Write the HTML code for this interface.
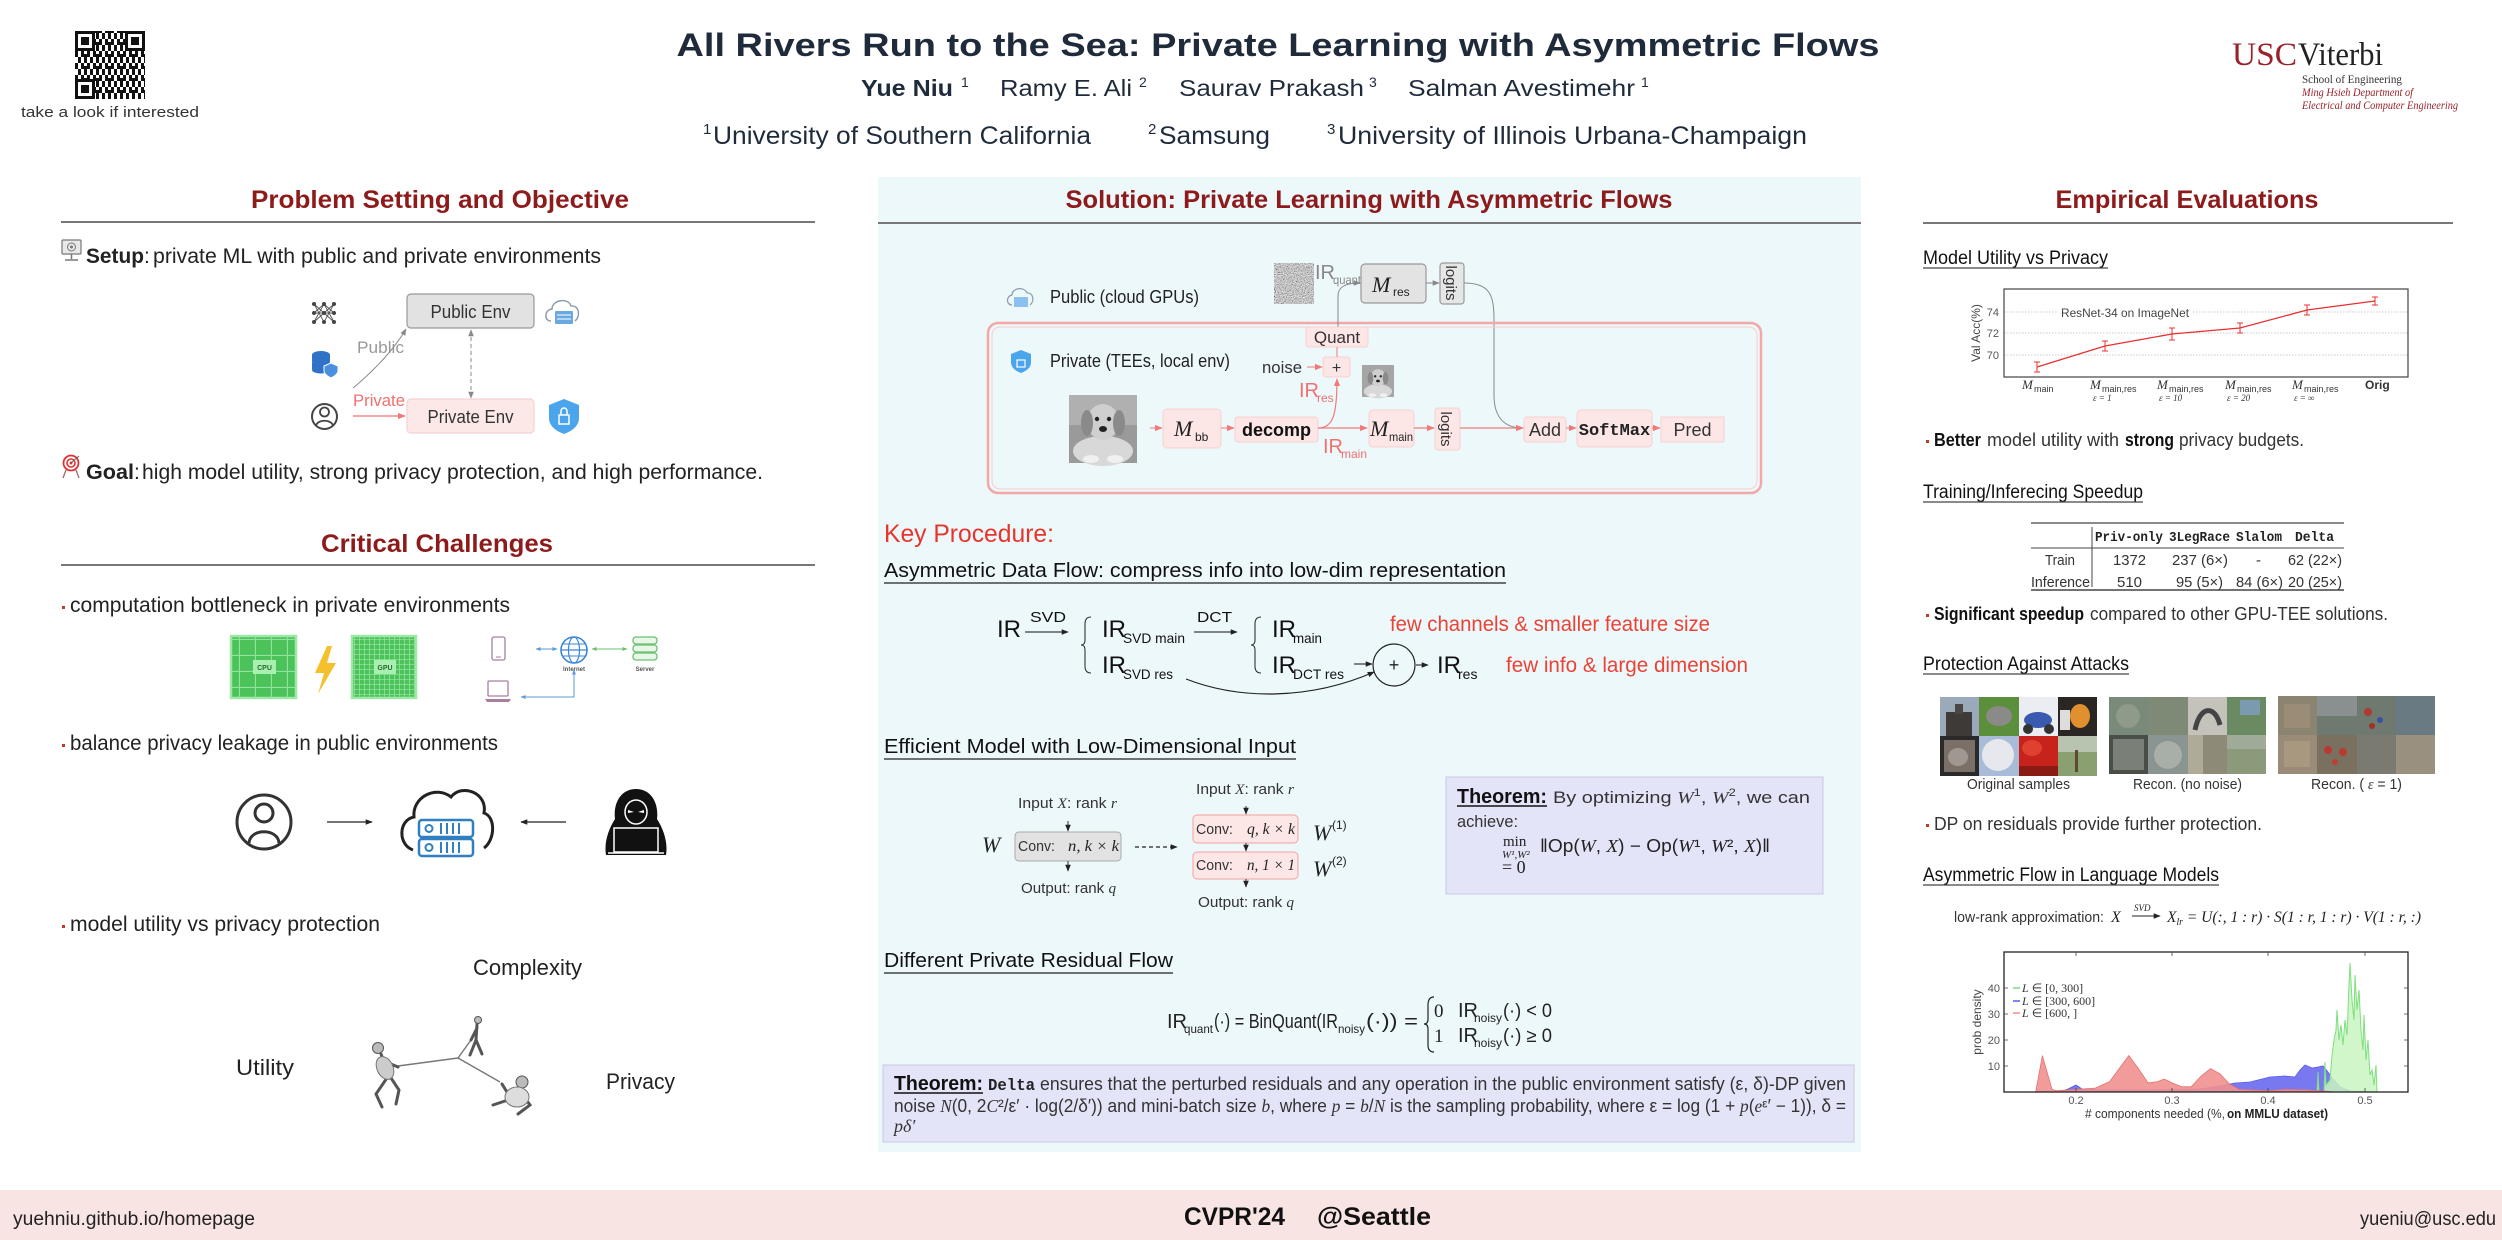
<!DOCTYPE html>
<html><head><meta charset="utf-8">
<style>
html,body{margin:0;padding:0;background:#fff;}
svg{display:block;}
text{font-family:"Liberation Sans",sans-serif;}
.sf{font-family:"Liberation Serif",serif;}
.mo{font-family:"Liberation Mono",monospace;}
.hd{font-weight:bold;fill:#8e1b1b;font-size:25px;}
.it{font-style:italic;}
</style></head><body>
<svg width="2502" height="1240" viewBox="0 0 2502 1240" xmlns="http://www.w3.org/2000/svg" fill="#222">
<defs>
<marker id="mk" viewBox="0 0 10 10" refX="9" refY="5" markerWidth="7" markerHeight="7" orient="auto-start-reverse" markerUnits="userSpaceOnUse"><path d="M0,1 L10,5 L0,9 z" fill="#222"/></marker>
<marker id="mg" viewBox="0 0 10 10" refX="9" refY="5" markerWidth="7" markerHeight="7" orient="auto-start-reverse" markerUnits="userSpaceOnUse"><path d="M0,1 L10,5 L0,9 z" fill="#888"/></marker>
<marker id="mr" viewBox="0 0 10 10" refX="9" refY="5" markerWidth="8" markerHeight="8" orient="auto-start-reverse" markerUnits="userSpaceOnUse"><path d="M0,1 L10,5 L0,9 z" fill="#f07a7a"/></marker>
<marker id="mb" viewBox="0 0 10 10" refX="9" refY="5" markerWidth="5" markerHeight="5" orient="auto-start-reverse" markerUnits="userSpaceOnUse"><path d="M0,1 L10,5 L0,9 z" fill="#5a9bd5"/></marker>
<marker id="mgr" viewBox="0 0 10 10" refX="9" refY="5" markerWidth="5" markerHeight="5" orient="auto-start-reverse" markerUnits="userSpaceOnUse"><path d="M0,1 L10,5 L0,9 z" fill="#6cc070"/></marker>
<pattern id="qr" width="12" height="12" patternUnits="userSpaceOnUse"><rect width="12" height="12" fill="#fff"/><rect x="0" y="0" width="3" height="3" fill="#111"/><rect x="6" y="0" width="3" height="3" fill="#111"/><rect x="3" y="3" width="3" height="3" fill="#111"/><rect x="9" y="3" width="3" height="6" fill="#111"/><rect x="0" y="6" width="6" height="3" fill="#111"/><rect x="6" y="9" width="3" height="3" fill="#111"/><rect x="0" y="9" width="3" height="3" fill="#111"/></pattern>
<pattern id="g1" width="16" height="16" patternUnits="userSpaceOnUse"><path d="M15.5,0 V16 M0,15.5 H16" stroke="#8fe49a" stroke-width="1.2"/></pattern>
<pattern id="g2" width="5" height="5" patternUnits="userSpaceOnUse"><path d="M4.5,0 V5 M0,4.5 H5" stroke="#8fe49a" stroke-width="0.8"/></pattern>
<filter id="nz" x="0" y="0" width="100%" height="100%"><feTurbulence type="fractalNoise" baseFrequency="0.9" numOctaves="2" seed="4"/><feColorMatrix type="matrix" values="0.33 0.33 0.33 0 0 0.33 0.33 0.33 0 0 0.33 0.33 0.33 0 0 0 0 0 0 1"/><feComponentTransfer><feFuncR type="linear" slope="2.2" intercept="-0.55"/><feFuncG type="linear" slope="2.2" intercept="-0.55"/><feFuncB type="linear" slope="2.2" intercept="-0.55"/></feComponentTransfer></filter>
</defs>

<!-- ===== HEADER ===== -->
<rect x="75" y="31" width="70" height="68" fill="url(#qr)"/>
<g fill="#111"><rect x="75" y="31" width="20" height="20"/><rect x="125" y="31" width="20" height="20"/><rect x="75" y="79" width="20" height="20"/></g>
<g fill="#fff"><rect x="78" y="34" width="14" height="14"/><rect x="128" y="34" width="14" height="14"/><rect x="78" y="82" width="14" height="14"/></g>
<g fill="#111"><rect x="81" y="37" width="8" height="8"/><rect x="131" y="37" width="8" height="8"/><rect x="81" y="85" width="8" height="8"/></g>
<text x="21" y="117" font-size="15" fill="#333" textLength="178" lengthAdjust="spacingAndGlyphs">take a look if interested</text>

<text x="1278" y="56" text-anchor="middle" font-size="32" font-weight="bold" fill="#1f2b3b" textLength="1203" lengthAdjust="spacingAndGlyphs">All Rivers Run to the Sea: Private Learning with Asymmetric Flows</text>

<text x="861" y="96" font-size="23" font-weight="bold" fill="#1f2b3b" textLength="92" lengthAdjust="spacingAndGlyphs">Yue Niu</text><text x="961" y="87" font-size="14" fill="#1f2b3b">1</text>
<text x="1000" y="96" font-size="23" fill="#1f2b3b" textLength="132" lengthAdjust="spacingAndGlyphs">Ramy E. Ali</text><text x="1139" y="87" font-size="14" fill="#1f2b3b">2</text>
<text x="1179" y="96" font-size="23" fill="#1f2b3b" textLength="185" lengthAdjust="spacingAndGlyphs">Saurav Prakash</text><text x="1369" y="87" font-size="14" fill="#1f2b3b">3</text>
<text x="1408" y="96" font-size="23" fill="#1f2b3b" textLength="227" lengthAdjust="spacingAndGlyphs">Salman Avestimehr</text><text x="1641" y="87" font-size="14" fill="#1f2b3b">1</text>

<text x="703" y="134" font-size="15" fill="#1f2b3b">1</text><text x="713" y="144" font-size="25" fill="#1f2b3b" textLength="378" lengthAdjust="spacingAndGlyphs">University of Southern California</text>
<text x="1148" y="134" font-size="15" fill="#1f2b3b">2</text><text x="1159" y="144" font-size="25" fill="#1f2b3b" textLength="111" lengthAdjust="spacingAndGlyphs">Samsung</text>
<text x="1327" y="134" font-size="15" fill="#1f2b3b">3</text><text x="1338" y="144" font-size="25" fill="#1f2b3b" textLength="469" lengthAdjust="spacingAndGlyphs">University of Illinois Urbana-Champaign</text>

<text x="2232" y="65" class="sf" font-size="33" fill="#99212b" textLength="65" lengthAdjust="spacingAndGlyphs">USC</text>
<text x="2298" y="65" class="sf" font-size="33" fill="#222" textLength="85" lengthAdjust="spacingAndGlyphs">Viterbi</text>
<text x="2302" y="83" class="sf" font-size="12" fill="#333" textLength="100" lengthAdjust="spacingAndGlyphs">School of Engineering</text>
<text x="2302" y="96" class="sf it" font-size="12" fill="#99212b" textLength="111" lengthAdjust="spacingAndGlyphs">Ming Hsieh Department of</text>
<text x="2302" y="109" class="sf it" font-size="12" fill="#99212b" textLength="156" lengthAdjust="spacingAndGlyphs">Electrical and Computer Engineering</text>

<!-- ===== LEFT COLUMN ===== -->
<text x="440" y="208" text-anchor="middle" class="hd" textLength="378" lengthAdjust="spacingAndGlyphs">Problem Setting and Objective</text>
<line x1="61" y1="222" x2="815" y2="222" stroke="#777" stroke-width="2"/>

<g><rect x="62" y="240" width="19" height="14" rx="1" fill="#e8e8e8" stroke="#777" stroke-width="1.2"/><circle cx="71.5" cy="247" r="4" fill="none" stroke="#777" stroke-width="1"/><circle cx="71.5" cy="247" r="1.5" fill="#777"/><line x1="71.5" y1="254" x2="71.5" y2="259" stroke="#777" stroke-width="1.5"/><line x1="65" y1="260" x2="78" y2="260" stroke="#777" stroke-width="1.5"/></g>
<text x="86" y="263" font-size="21" font-weight="bold" textLength="58" lengthAdjust="spacingAndGlyphs">Setup</text><text x="144" y="263" font-size="21">:</text>
<text x="153" y="263" font-size="21" textLength="448" lengthAdjust="spacingAndGlyphs">private ML with public and private environments</text>

<g stroke="#555" stroke-width="0.9" fill="none"><path d="M314,304 L324,313 L334,304 M314,313 L324,304 L334,313 M314,322 L324,313 L334,322 M314,304 L324,322 L334,304 M314,322 L324,304 L334,322 M314,313 H334"/></g>
<g fill="#444"><circle cx="314" cy="304" r="2"/><circle cx="314" cy="313" r="2"/><circle cx="314" cy="322" r="2"/><circle cx="324" cy="304" r="2"/><circle cx="324" cy="313" r="2"/><circle cx="324" cy="322" r="2"/><circle cx="334" cy="304" r="2"/><circle cx="334" cy="313" r="2"/><circle cx="334" cy="322" r="2"/></g>
<rect x="407" y="294" width="127" height="34" rx="4" fill="#e2e2e2" stroke="#999" stroke-width="1.2"/>
<text x="470.5" y="318" text-anchor="middle" font-size="18" fill="#333" textLength="80" lengthAdjust="spacingAndGlyphs">Public Env</text>
<path d="M551,321 C544,321 544,310 552,309 C552,300 568,297 571,306 C579,305 581,316 575,321" fill="none" stroke="#8a9aa8" stroke-width="1.4"/>
<rect x="555" y="311" width="18" height="13" rx="1" fill="#6aa8e0"/><line x1="557" y1="315" x2="571" y2="315" stroke="#fff" stroke-width="1"/><line x1="557" y1="319" x2="571" y2="319" stroke="#fff" stroke-width="1"/>
<g fill="#2f72c8"><ellipse cx="321" cy="355" rx="9" ry="4"/><rect x="312" y="355" width="18" height="6"/><ellipse cx="321" cy="362" rx="9" ry="3.5"/><rect x="312" y="363" width="18" height="6"/><ellipse cx="321" cy="370" rx="9" ry="3.5"/></g>
<path d="M331,363 L338,366 L338,371 C338,374 335,376 331,378 C327,376 324,374 324,371 L324,366 Z" fill="#4a8fe0" stroke="#fff" stroke-width="1"/>
<text x="357" y="353" font-size="17" fill="#999" textLength="47" lengthAdjust="spacingAndGlyphs">Public</text>
<path d="M353,388 C375,370 395,348 406,329" fill="none" stroke="#888" stroke-width="1" marker-end="url(#mg)"/>
<line x1="471" y1="330" x2="471" y2="398" stroke="#888" stroke-width="1" stroke-dasharray="4,3" marker-start="url(#mg)" marker-end="url(#mg)"/>
<text x="353" y="406" font-size="17" fill="#f07070" textLength="52" lengthAdjust="spacingAndGlyphs">Private</text>
<circle cx="324.5" cy="416.5" r="12.5" fill="none" stroke="#444" stroke-width="2"/><circle cx="324.5" cy="412" r="4.5" fill="none" stroke="#444" stroke-width="1.8"/><path d="M316,426 C317,419 332,419 333,426" fill="none" stroke="#444" stroke-width="1.8"/>
<line x1="353" y1="416" x2="405" y2="416" stroke="#f07070" stroke-width="1.3" marker-end="url(#mr)"/>
<rect x="407" y="399" width="127" height="34" rx="4" fill="#fde8e8" stroke="#f7d0d0" stroke-width="1.2"/>
<text x="470.5" y="423" text-anchor="middle" font-size="18" fill="#333" textLength="86" lengthAdjust="spacingAndGlyphs">Private Env</text>
<path d="M564,399 L579,405 L579,418 C579,426 572,431 564,434 C556,431 549,426 549,418 L549,405 Z" fill="#4aa5ec"/>
<rect x="559" y="415" width="10" height="9" fill="none" stroke="#fff" stroke-width="1.5"/><path d="M561,415 V411 A3,3 0 0 1 567,411 V415" fill="none" stroke="#fff" stroke-width="1.5"/>

<g><circle cx="71" cy="463" r="7.5" fill="#fff" stroke="#d33" stroke-width="1.8"/><circle cx="71" cy="463" r="4" fill="#fff" stroke="#d33" stroke-width="1.6"/><circle cx="71" cy="463" r="1.5" fill="#d33"/><path d="M66,470 L63,478 M76,470 L79,478" stroke="#a66" stroke-width="1.3"/><line x1="71" y1="463" x2="79" y2="456" stroke="#666" stroke-width="1"/></g>
<text x="86" y="479" font-size="21" font-weight="bold" textLength="48" lengthAdjust="spacingAndGlyphs">Goal</text><text x="134" y="479" font-size="21">:</text>
<text x="142" y="479" font-size="21" textLength="621" lengthAdjust="spacingAndGlyphs">high model utility, strong privacy protection, and high performance.</text>

<text x="437" y="552" text-anchor="middle" class="hd" textLength="232" lengthAdjust="spacingAndGlyphs">Critical Challenges</text>
<line x1="61" y1="565" x2="815" y2="565" stroke="#777" stroke-width="2"/>

<rect x="62" y="606" width="3" height="3" fill="#c0392b"/>
<text x="70" y="612" font-size="21" textLength="440" lengthAdjust="spacingAndGlyphs">computation bottleneck in private environments</text>
<rect x="231" y="636" width="65" height="62" fill="#4cc25b" stroke="#9fe8a8" stroke-width="2.5"/>
<rect x="231" y="636" width="65" height="62" fill="url(#g1)"/>
<rect x="253" y="660" width="23" height="14" fill="#a8f0b0"/><text x="264.5" y="670" text-anchor="middle" font-size="7" font-weight="bold" fill="#2a6a30">CPU</text>
<polygon points="327,646 315,673 324,673 318,694 336,663 327,663 332,646" fill="#f5c02e"/>
<rect x="352" y="636" width="64" height="62" fill="#4cc25b" stroke="#9fe8a8" stroke-width="2.5"/>
<rect x="352" y="636" width="64" height="62" fill="url(#g2)"/>
<rect x="374" y="660" width="22" height="14" fill="#a8f0b0"/><text x="385" y="670" text-anchor="middle" font-size="7" font-weight="bold" fill="#2a6a30">GPU</text>
<rect x="492" y="637" width="13" height="23" rx="2" fill="none" stroke="#a77fa0" stroke-width="1.3"/><line x1="496" y1="657" x2="501" y2="657" stroke="#a77fa0" stroke-width="1"/>
<line x1="536" y1="649" x2="557" y2="649" stroke="#5a9bd5" stroke-width="1" marker-start="url(#mb)" marker-end="url(#mb)"/>
<circle cx="574" cy="650" r="13" fill="none" stroke="#3b86d8" stroke-width="1.6"/><ellipse cx="574" cy="650" rx="5.5" ry="13" fill="none" stroke="#3b86d8" stroke-width="1.2"/><line x1="561" y1="650" x2="587" y2="650" stroke="#3b86d8" stroke-width="1.2"/><line x1="563" y1="644" x2="585" y2="644" stroke="#3b86d8" stroke-width="1"/><line x1="563" y1="656" x2="585" y2="656" stroke="#3b86d8" stroke-width="1"/>
<text x="574" y="671" text-anchor="middle" font-size="6" font-weight="bold" fill="#555">Internet</text>
<line x1="592" y1="649" x2="627" y2="649" stroke="#6cc070" stroke-width="1" marker-start="url(#mgr)" marker-end="url(#mgr)"/>
<g fill="#e8f7e8" stroke="#6cc070" stroke-width="1.3"><rect x="633" y="637" width="24" height="7" rx="3"/><rect x="633" y="645" width="24" height="7" rx="3"/><rect x="633" y="653" width="24" height="7" rx="3"/></g>
<text x="645" y="671" text-anchor="middle" font-size="6" font-weight="bold" fill="#555">Server</text>
<polyline points="574,670 574,697 521,697" fill="none" stroke="#5a9bd5" stroke-width="1" marker-start="url(#mb)" marker-end="url(#mb)"/>
<rect x="488" y="681" width="20" height="15" rx="1" fill="none" stroke="#a77fa0" stroke-width="1.3"/><path d="M485,699 H511 L509,702 H487 Z" fill="#a77fa0"/>

<rect x="62" y="744" width="3" height="3" fill="#c0392b"/>
<text x="70" y="750" font-size="21" textLength="428" lengthAdjust="spacingAndGlyphs">balance privacy leakage in public environments</text>
<circle cx="264" cy="822" r="27" fill="none" stroke="#333" stroke-width="3"/><circle cx="264" cy="813" r="9" fill="none" stroke="#333" stroke-width="3"/><path d="M249,843 C250,828 278,828 279,843" fill="none" stroke="#333" stroke-width="3"/>
<line x1="327" y1="822" x2="372" y2="822" stroke="#222" stroke-width="1.2" marker-end="url(#mk)"/>
<path d="M413,850 C398,845 398,820 414,817 C412,797 436,785 451,797 C462,783 488,793 484,813 C496,817 495,840 484,848" fill="none" stroke="#222" stroke-width="3"/>
<g stroke="#2f7fc1" stroke-width="2.5" fill="#fff"><rect x="419" y="820" width="54" height="17" rx="3"/><rect x="419" y="839" width="54" height="17" rx="3"/></g>
<g stroke="#2f7fc1" stroke-width="2" fill="none"><circle cx="429" cy="828.5" r="3.5"/><circle cx="429" cy="847.5" r="3.5"/><path d="M441,823 V834 M447,823 V834 M453,823 V834 M459,823 V834 M441,842 V853 M447,842 V853 M453,842 V853 M459,842 V853"/></g>
<line x1="566" y1="822" x2="521" y2="822" stroke="#222" stroke-width="1.2" marker-end="url(#mk)"/>
<path d="M636,789 C621,789 613,803 615,819 C608,830 604,843 606,855 L666,855 C668,843 664,830 657,819 C659,803 651,789 636,789 Z" fill="#111"/>
<ellipse cx="636" cy="812" rx="11" ry="12" fill="#111" stroke="#fff" stroke-width="1.5"/>
<path d="M628,810 L634,812 L628,813 Z M644,810 L638,812 L644,813 Z" fill="#fff"/>
<rect x="614" y="828" width="44" height="24" fill="#111" stroke="#fff" stroke-width="1.5"/><line x1="608" y1="853" x2="664" y2="853" stroke="#fff" stroke-width="1.5"/>

<rect x="62" y="925" width="3" height="3" fill="#c0392b"/>
<text x="70" y="931" font-size="21" textLength="310" lengthAdjust="spacingAndGlyphs">model utility vs privacy protection</text>
<text x="473" y="975" font-size="22" textLength="109" lengthAdjust="spacingAndGlyphs">Complexity</text>
<text x="236" y="1075" font-size="22" textLength="58" lengthAdjust="spacingAndGlyphs">Utility</text>
<text x="606" y="1089" font-size="22" textLength="69" lengthAdjust="spacingAndGlyphs">Privacy</text>
<g stroke="#777" stroke-width="1.4" fill="none">
<line x1="398" y1="1066" x2="458" y2="1058"/><line x1="458" y1="1058" x2="471" y2="1040"/><line x1="458" y1="1058" x2="500" y2="1082"/>
</g>
<g stroke="#555" stroke-width="3" fill="none" stroke-linecap="round">
<path d="M381,1054 L389,1075 M386,1062 L398,1067 M389,1075 L376,1094 L382,1107 M389,1075 L399,1090 L396,1104"/>
<path d="M477,1024 L476,1040 L470,1055 M476,1040 L482,1054 M477,1028 L471,1040"/>
<path d="M518,1089 L508,1100 L493,1105 M510,1097 L502,1084 M518,1089 L530,1105 L518,1114"/>
</g>
<g fill="#bbb" stroke="#555" stroke-width="1"><circle cx="378" cy="1048" r="5.5"/><circle cx="478" cy="1020" r="3.5"/><circle cx="522" cy="1082" r="6"/></g>
<ellipse cx="385" cy="1068" rx="8" ry="12" fill="#ccc" stroke="#777" stroke-width="1" transform="rotate(-25 385 1068)"/>
<ellipse cx="517" cy="1097" rx="12" ry="10" fill="#ddd" stroke="#777" stroke-width="1"/>

<!-- ===== MIDDLE COLUMN ===== -->
<rect x="878" y="177" width="983" height="975" fill="#edf8fb"/>
<text x="1369" y="208" text-anchor="middle" class="hd" textLength="607" lengthAdjust="spacingAndGlyphs">Solution: Private Learning with Asymmetric Flows</text>
<line x1="878" y1="223" x2="1861" y2="223" stroke="#777" stroke-width="2"/>

<path d="M1012,305 C1006,305 1006,296 1012,295 C1012,288 1024,286 1027,293 C1033,292 1035,301 1030,305" fill="none" stroke="#8a9aa8" stroke-width="1.2"/>
<rect x="1014" y="297" width="14" height="10" fill="#8cc0ee"/>
<text x="1050" y="303" font-size="18" textLength="149" lengthAdjust="spacingAndGlyphs">Public (cloud GPUs)</text>
<rect x="1274" y="263" width="40" height="41" filter="url(#nz)"/>
<text x="1315" y="279" font-size="20" fill="#888">IR</text><text x="1333" y="284" font-size="12" fill="#888" textLength="28" lengthAdjust="spacingAndGlyphs">quant</text>
<rect x="1361" y="264" width="65" height="39" rx="4" fill="#e3e3e3" stroke="#999" stroke-width="1.2"/>
<text x="1372" y="292" class="sf it" font-size="22" fill="#222">M</text><text x="1393" y="296" font-size="12" fill="#222">res</text>
<line x1="1426" y1="283" x2="1439" y2="283" stroke="#888" stroke-width="1" marker-end="url(#mg)"/>
<rect x="1440" y="263" width="24" height="41" rx="3" fill="#e6e6e6" stroke="#999" stroke-width="1.2"/>
<text transform="translate(1446,283) rotate(90)" text-anchor="middle" font-size="15" fill="#333">logits</text>
<path d="M1464,283 C1490,283 1494,295 1494,320 L1494,395 C1494,418 1505,428 1523,428" fill="none" stroke="#888" stroke-width="1" marker-end="url(#mg)"/>

<rect x="988" y="323" width="773" height="170" rx="10" fill="none" stroke="#f4a7a7" stroke-width="2.5"/>
<rect x="992" y="327" width="765" height="162" rx="8" fill="none" stroke="#f9cccc" stroke-width="1"/>
<path d="M1338,327 L1338,296 C1338,287 1345,283 1360,283" fill="none" stroke="#888" stroke-width="1" marker-end="url(#mg)"/>
<rect x="1306" y="327" width="62" height="20" rx="3" fill="#fde6e6" stroke="#f9cfcf" stroke-width="1"/>
<text x="1337" y="343" text-anchor="middle" font-size="17" fill="#333">Quant</text>
<path d="M1021,350 L1031,354 L1031,362 C1031,368 1026,371 1021,373 C1016,371 1011,368 1011,362 L1011,354 Z" fill="#4aa5ec"/>
<rect x="1017" y="360" width="8" height="7" fill="none" stroke="#fff" stroke-width="1.2"/>
<text x="1050" y="367" font-size="18" textLength="180" lengthAdjust="spacingAndGlyphs">Private (TEEs, local env)</text>
<text x="1262" y="373" font-size="17" fill="#333" textLength="40" lengthAdjust="spacingAndGlyphs">noise</text>
<line x1="1307" y1="367" x2="1322" y2="367" stroke="#f07a7a" stroke-width="1" marker-end="url(#mr)"/>
<rect x="1323" y="357" width="27" height="20" rx="3" fill="#fde6e6" stroke="#f9cfcf" stroke-width="1"/>
<text x="1336.5" y="373" text-anchor="middle" font-size="16" fill="#333">+</text>
<line x1="1337" y1="357" x2="1337" y2="347" stroke="#f07a7a" stroke-width="1"/>
<g transform="translate(1362,365) scale(0.47)">
<rect width="68" height="68" fill="#a5a5a5"/><ellipse cx="34" cy="56" rx="30" ry="15" fill="#d8d8d8"/><ellipse cx="34" cy="27" rx="16" ry="18" fill="#cfcfcf"/><ellipse cx="18" cy="28" rx="6" ry="13" fill="#8a8a8a"/><ellipse cx="50" cy="28" rx="6" ry="13" fill="#8a8a8a"/><circle cx="28" cy="24" r="2.5" fill="#222"/><circle cx="40" cy="24" r="2.5" fill="#222"/><ellipse cx="34" cy="34" rx="4" ry="3" fill="#222"/><ellipse cx="22" cy="64" rx="8" ry="4" fill="#f0f0f0"/><ellipse cx="46" cy="64" rx="8" ry="4" fill="#f0f0f0"/></g>
<text x="1299" y="397" font-size="20" fill="#f07070">IR</text><text x="1317" y="402" font-size="12" fill="#f07070">res</text>
<path d="M1318,428 C1333,428 1337,415 1337,379" fill="none" stroke="#f07a7a" stroke-width="1.2" marker-end="url(#mr)"/>
<g transform="translate(1069,395)">
<rect width="68" height="68" fill="#9a9a9a"/><rect x="0" y="0" width="68" height="30" fill="#b0b0b0"/><ellipse cx="34" cy="56" rx="30" ry="15" fill="#d8d8d8"/><ellipse cx="34" cy="27" rx="16" ry="18" fill="#cfcfcf"/><ellipse cx="18" cy="28" rx="6" ry="13" fill="#8a8a8a"/><ellipse cx="50" cy="28" rx="6" ry="13" fill="#8a8a8a"/><circle cx="28" cy="24" r="2.2" fill="#222"/><circle cx="40" cy="24" r="2.2" fill="#222"/><ellipse cx="34" cy="34" rx="4" ry="3" fill="#222"/><ellipse cx="22" cy="64" rx="8" ry="4" fill="#f0f0f0"/><ellipse cx="46" cy="64" rx="8" ry="4" fill="#f0f0f0"/></g>
<line x1="1150" y1="428" x2="1162" y2="428" stroke="#f07a7a" stroke-width="1" marker-end="url(#mr)"/>
<rect x="1163" y="409" width="58" height="39" rx="4" fill="#fde6e6" stroke="#f9cfcf" stroke-width="1"/>
<text x="1174" y="436" class="sf it" font-size="22">M</text><text x="1195" y="441" font-size="12">bb</text>
<line x1="1221" y1="428" x2="1234" y2="428" stroke="#f07a7a" stroke-width="1" marker-end="url(#mr)"/>
<rect x="1235" y="417" width="83" height="25" rx="3" fill="#fde6e6" stroke="#f9cfcf" stroke-width="1"/>
<text x="1276.5" y="436" text-anchor="middle" font-size="18" font-weight="bold" fill="#111">decomp</text>
<line x1="1318" y1="428" x2="1367" y2="428" stroke="#f07a7a" stroke-width="1.3" marker-end="url(#mr)"/>
<text x="1323" y="453" font-size="20" fill="#f07070">IR</text><text x="1341" y="458" font-size="12" fill="#f07070">main</text>
<rect x="1369" y="410" width="45" height="37" rx="4" fill="#fde6e6" stroke="#f9cfcf" stroke-width="1"/>
<text x="1370" y="436" class="sf it" font-size="22">M</text><text x="1389" y="441" font-size="12" textLength="24" lengthAdjust="spacingAndGlyphs">main</text>
<line x1="1414" y1="428" x2="1434" y2="428" stroke="#f07a7a" stroke-width="1.3" marker-end="url(#mr)"/>
<rect x="1435" y="408" width="25" height="42" rx="3" fill="#fde6e6" stroke="#f9cfcf" stroke-width="1"/>
<text transform="translate(1441,429) rotate(90)" text-anchor="middle" font-size="15" fill="#333">logits</text>
<line x1="1460" y1="428" x2="1523" y2="428" stroke="#f07a7a" stroke-width="1.3" marker-end="url(#mr)"/>
<rect x="1524" y="417" width="42" height="25" rx="3" fill="#fde6e6" stroke="#f9cfcf" stroke-width="1"/>
<text x="1545" y="436" text-anchor="middle" font-size="18" fill="#333">Add</text>
<line x1="1566" y1="428" x2="1576" y2="428" stroke="#f07a7a" stroke-width="1" marker-end="url(#mr)"/>
<rect x="1577" y="410" width="75" height="37" rx="4" fill="#fde6e6" stroke="#f9cfcf" stroke-width="1"/>
<text x="1614.5" y="435" text-anchor="middle" class="mo" font-size="17" font-weight="bold" fill="#222">SoftMax</text>
<line x1="1652" y1="428" x2="1660" y2="428" stroke="#f07a7a" stroke-width="1" marker-end="url(#mr)"/>
<rect x="1661" y="417" width="63" height="25" fill="#fde6e6" stroke="#f9cfcf" stroke-width="1"/>
<text x="1692.5" y="436" text-anchor="middle" font-size="18" fill="#333">Pred</text>

<text x="884" y="542" font-size="25" fill="#e8352b" textLength="170" lengthAdjust="spacingAndGlyphs">Key Procedure:</text>
<text x="884" y="577" font-size="20" fill="#111" textLength="622" lengthAdjust="spacingAndGlyphs">Asymmetric Data Flow: compress info into low-dim representation</text>
<line x1="884" y1="583" x2="1506" y2="583" stroke="#444" stroke-width="1.5"/>

<text x="997" y="637" font-size="24" fill="#111">IR</text>
<text x="1030" y="622" font-size="15" fill="#111" textLength="36" lengthAdjust="spacingAndGlyphs">SVD</text>
<line x1="1025" y1="632" x2="1068" y2="632" stroke="#111" stroke-width="1" marker-end="url(#mk)"/>
<path d="M1091,617 Q1085,617 1085,624 L1085,640 Q1085,645 1081,645 Q1085,645 1085,650 L1085,666 Q1085,673 1091,673" fill="none" stroke="#333" stroke-width="1.1"/>
<text x="1102" y="637" font-size="24" fill="#111">IR</text><text x="1123" y="643" font-size="14" fill="#111" textLength="62" lengthAdjust="spacingAndGlyphs">SVD main</text>
<text x="1197" y="622" font-size="15" fill="#111" textLength="35" lengthAdjust="spacingAndGlyphs">DCT</text>
<line x1="1194" y1="632" x2="1237" y2="632" stroke="#111" stroke-width="1" marker-end="url(#mk)"/>
<text x="1102" y="673" font-size="24" fill="#111">IR</text><text x="1123" y="679" font-size="14" fill="#111" textLength="50" lengthAdjust="spacingAndGlyphs">SVD res</text>
<path d="M1261,617 Q1255,617 1255,624 L1255,640 Q1255,645 1251,645 Q1255,645 1255,650 L1255,666 Q1255,673 1261,673" fill="none" stroke="#333" stroke-width="1.1"/>
<text x="1272" y="637" font-size="24" fill="#111">IR</text><text x="1293" y="643" font-size="14" fill="#111" textLength="29" lengthAdjust="spacingAndGlyphs">main</text>
<text x="1272" y="673" font-size="24" fill="#111">IR</text><text x="1293" y="679" font-size="14" fill="#111" textLength="51" lengthAdjust="spacingAndGlyphs">DCT res</text>
<line x1="1354" y1="664" x2="1372" y2="664" stroke="#111" stroke-width="1" marker-end="url(#mk)"/>
<circle cx="1394" cy="665" r="21" fill="none" stroke="#222" stroke-width="1.2"/>
<text x="1394" y="671" text-anchor="middle" font-size="18" fill="#222">+</text>
<line x1="1416" y1="665" x2="1428" y2="665" stroke="#111" stroke-width="1" marker-end="url(#mk)"/>
<text x="1437" y="673" font-size="24" fill="#111">IR</text><text x="1458" y="679" font-size="14" fill="#111">res</text>
<path d="M1186,679 C1240,700 1310,700 1374,672" fill="none" stroke="#222" stroke-width="1.2" marker-end="url(#mk)"/>
<text x="1390" y="631" font-size="21" fill="#ea4335" textLength="320" lengthAdjust="spacingAndGlyphs">few channels &amp; smaller feature size</text>
<text x="1506" y="672" font-size="21" fill="#ea4335" textLength="242" lengthAdjust="spacingAndGlyphs">few info &amp; large dimension</text>

<text x="884" y="753" font-size="20" fill="#111" textLength="412" lengthAdjust="spacingAndGlyphs">Efficient Model with Low-Dimensional Input</text>
<line x1="884" y1="759" x2="1296" y2="759" stroke="#444" stroke-width="1.5"/>
<text x="1018" y="808" font-size="15" fill="#333" textLength="99" lengthAdjust="spacingAndGlyphs">Input <tspan class="sf it">X</tspan>: rank <tspan class="sf it">r</tspan></text>
<line x1="1068" y1="821" x2="1068" y2="831" stroke="#333" stroke-width="1" marker-end="url(#mk)"/>
<text x="982" y="852" class="sf it" font-size="22" fill="#222">W</text>
<rect x="1015" y="832" width="106" height="29" rx="4" fill="#e2e2e2" stroke="#aaa" stroke-width="1"/>
<text x="1018" y="851" font-size="15" fill="#333" textLength="37" lengthAdjust="spacingAndGlyphs">Conv:</text>
<text x="1068" y="851" class="sf it" font-size="16" fill="#222" textLength="51" lengthAdjust="spacingAndGlyphs">n, k × k</text>
<line x1="1068" y1="861" x2="1068" y2="871" stroke="#333" stroke-width="1" marker-end="url(#mk)"/>
<text x="1021" y="893" font-size="15" fill="#333" textLength="95" lengthAdjust="spacingAndGlyphs">Output: rank <tspan class="sf it">q</tspan></text>
<line x1="1135" y1="847" x2="1177" y2="847" stroke="#222" stroke-width="1.2" stroke-dasharray="4,3" marker-end="url(#mk)"/>
<text x="1196" y="794" font-size="15" fill="#333" textLength="98" lengthAdjust="spacingAndGlyphs">Input <tspan class="sf it">X</tspan>: rank <tspan class="sf it">r</tspan></text>
<line x1="1246" y1="806" x2="1246" y2="814" stroke="#333" stroke-width="1" marker-end="url(#mk)"/>
<rect x="1193" y="815" width="105" height="28" rx="4" fill="#fde6e6" stroke="#f4a0a0" stroke-width="1"/>
<text x="1196" y="834" font-size="15" fill="#333" textLength="37" lengthAdjust="spacingAndGlyphs">Conv:</text>
<text x="1247" y="834" class="sf it" font-size="16" fill="#222" textLength="48" lengthAdjust="spacingAndGlyphs">q, k × k</text>
<text x="1313" y="840" class="sf it" font-size="22" fill="#222">W</text><text x="1332" y="829" font-size="12" fill="#222">(1)</text>
<line x1="1246" y1="843" x2="1246" y2="851" stroke="#333" stroke-width="1" marker-end="url(#mk)"/>
<rect x="1193" y="852" width="105" height="27" rx="4" fill="#fde6e6" stroke="#f4a0a0" stroke-width="1"/>
<text x="1196" y="870" font-size="15" fill="#333" textLength="37" lengthAdjust="spacingAndGlyphs">Conv:</text>
<text x="1247" y="870" class="sf it" font-size="16" fill="#222" textLength="48" lengthAdjust="spacingAndGlyphs">n, 1 × 1</text>
<text x="1313" y="876" class="sf it" font-size="22" fill="#222">W</text><text x="1332" y="865" font-size="12" fill="#222">(2)</text>
<line x1="1246" y1="879" x2="1246" y2="887" stroke="#333" stroke-width="1" marker-end="url(#mk)"/>
<text x="1198" y="907" font-size="15" fill="#333" textLength="96" lengthAdjust="spacingAndGlyphs">Output: rank <tspan class="sf it">q</tspan></text>

<rect x="1446" y="777" width="377" height="117" fill="#e4e4f9" stroke="#c9c9de" stroke-width="1"/>
<text x="1457" y="803" font-size="20" font-weight="bold" fill="#111" textLength="90" lengthAdjust="spacingAndGlyphs">Theorem:</text>
<line x1="1457" y1="806" x2="1547" y2="806" stroke="#111" stroke-width="1.5"/>
<text x="1553" y="803" font-size="17" fill="#333" textLength="257" lengthAdjust="spacingAndGlyphs">By optimizing <tspan class="sf it">W</tspan><tspan font-size="11" dy="-7">1</tspan><tspan dy="7">, </tspan><tspan class="sf it">W</tspan><tspan font-size="11" dy="-7">2</tspan><tspan dy="7">,  we  can</tspan></text>
<text x="1457" y="827" font-size="17" fill="#333" textLength="61" lengthAdjust="spacingAndGlyphs">achieve:</text>
<text x="1503" y="846" class="sf" font-size="15" fill="#222">min</text>
<text x="1502" y="858" class="sf it" font-size="11" fill="#222">W¹,W²</text>
<text x="1540" y="852" font-size="18" fill="#222" textLength="230" lengthAdjust="spacingAndGlyphs">‖Op(<tspan class="sf it">W</tspan>, <tspan class="sf it">X</tspan>) − Op(<tspan class="sf it">W</tspan>¹, <tspan class="sf it">W</tspan>², <tspan class="sf it">X</tspan>)‖</text>
<text x="1502" y="873" class="sf" font-size="18" fill="#222">= 0</text>

<text x="884" y="967" font-size="20" fill="#111" textLength="289" lengthAdjust="spacingAndGlyphs">Different Private Residual Flow</text>
<line x1="884" y1="973" x2="1173" y2="973" stroke="#444" stroke-width="1.5"/>
<text x="1167" y="1028" font-size="20" fill="#222">IR</text><text x="1184" y="1033" font-size="12" fill="#222" textLength="29" lengthAdjust="spacingAndGlyphs">quant</text>
<text x="1214" y="1028" font-size="20" fill="#222" textLength="124" lengthAdjust="spacingAndGlyphs">(·) = BinQuant(IR</text>
<text x="1338" y="1033" font-size="12" fill="#222" textLength="27" lengthAdjust="spacingAndGlyphs">noisy</text>
<text x="1366" y="1028" font-size="20" fill="#222" textLength="52" lengthAdjust="spacingAndGlyphs">(·)) =</text>
<path d="M1434,997 Q1428,997 1428,1005 L1428,1019 Q1428,1024 1424,1024 Q1428,1024 1428,1029 L1428,1045 Q1428,1052 1434,1052" fill="none" stroke="#222" stroke-width="1.2"/>
<text x="1434" y="1017" class="sf" font-size="19" fill="#222">0</text>
<text x="1458" y="1017" font-size="20" fill="#222">IR</text><text x="1474" y="1022" font-size="12" fill="#222">noisy</text><text x="1503" y="1017" font-size="19" fill="#222" textLength="49" lengthAdjust="spacingAndGlyphs">(·) &lt; 0</text>
<text x="1434" y="1042" class="sf" font-size="19" fill="#222">1</text>
<text x="1458" y="1042" font-size="20" fill="#222">IR</text><text x="1474" y="1047" font-size="12" fill="#222">noisy</text><text x="1503" y="1042" font-size="19" fill="#222" textLength="49" lengthAdjust="spacingAndGlyphs">(·) ≥ 0</text>

<rect x="883" y="1065" width="971" height="77" fill="#e4e4f9" stroke="#c9c9de" stroke-width="1"/>
<text x="894" y="1090" font-size="20" font-weight="bold" fill="#111" textLength="89" lengthAdjust="spacingAndGlyphs">Theorem:</text>
<line x1="894" y1="1093" x2="983" y2="1093" stroke="#111" stroke-width="1.5"/>
<text x="988" y="1090" class="mo" font-size="17" font-weight="bold" fill="#222" textLength="47" lengthAdjust="spacingAndGlyphs">Delta</text>
<text x="1040" y="1090" font-size="18" fill="#333" textLength="806" lengthAdjust="spacingAndGlyphs">ensures that the perturbed residuals and any operation in the public environment satisfy (ε, δ)-DP given</text>
<text x="894" y="1112" font-size="18" fill="#333" textLength="952" lengthAdjust="spacingAndGlyphs">noise <tspan class="sf it">N</tspan>(0, 2<tspan class="sf it">C</tspan>²/ε′ · log(2/δ′)) and mini-batch size <tspan class="sf it">b</tspan>, where <tspan class="sf it">p</tspan> = <tspan class="sf it">b</tspan>/<tspan class="sf it">N</tspan> is the sampling probability, where ε = log (1 + <tspan class="sf it">p</tspan>(<tspan class="sf it">e</tspan>ᵋ′ − 1)), δ =</text>
<text x="894" y="1132" class="sf it" font-size="18" fill="#333">pδ′</text>

<!-- ===== RIGHT COLUMN ===== -->
<text x="2187" y="208" text-anchor="middle" class="hd" textLength="263" lengthAdjust="spacingAndGlyphs">Empirical Evaluations</text>
<line x1="1923" y1="223" x2="2453" y2="223" stroke="#777" stroke-width="2"/>

<text x="1923" y="264" font-size="19" fill="#111" textLength="185" lengthAdjust="spacingAndGlyphs">Model Utility vs Privacy</text>
<line x1="1923" y1="268" x2="2108" y2="268" stroke="#444" stroke-width="1.3"/>
<g stroke="#bbb" stroke-width="0.8" stroke-dasharray="1.5,1.5"><line x1="2004" y1="312" x2="2408" y2="312"/><line x1="2004" y1="333" x2="2408" y2="333"/><line x1="2004" y1="355" x2="2408" y2="355"/></g>
<rect x="2058" y="306" width="134" height="14" fill="#fff"/>
<text x="2061" y="317" font-size="12" fill="#444" textLength="128" lengthAdjust="spacingAndGlyphs">ResNet-34 on ImageNet</text>
<rect x="2004" y="289" width="404" height="88" fill="none" stroke="#444" stroke-width="1.2"/>
<g font-size="11" fill="#555" text-anchor="end"><text x="1999" y="316">74</text><text x="1999" y="337">72</text><text x="1999" y="359">70</text></g>
<text transform="translate(1980,333) rotate(-90)" text-anchor="middle" font-size="12" fill="#444">Val Acc(%)</text>
<polyline points="2037,367 2105,346 2172,334 2240,328 2307,310 2375,301" fill="none" stroke="#e83030" stroke-width="1.3"/>
<g stroke="#e83030" stroke-width="1"><path d="M2037,362 V372 M2034,362 H2040 M2034,372 H2040"/><path d="M2105,341 V351 M2102,341 H2108 M2102,351 H2108"/><path d="M2172,328 V340 M2169,328 H2175 M2169,340 H2175"/><path d="M2240,323 V333 M2237,323 H2243 M2237,333 H2243"/><path d="M2307,305 V315 M2304,305 H2310 M2304,315 H2310"/><path d="M2375,297 V305 M2372,297 H2378 M2372,305 H2378"/></g>
<g fill="#333"><text x="2022" y="389" class="sf it" font-size="13">M</text><text x="2034" y="392" font-size="9">main</text>
<text x="2090" y="389" class="sf it" font-size="13">M</text><text x="2102" y="392" font-size="9">main,res</text><text x="2093" y="401" class="sf it" font-size="9">ε = 1</text>
<text x="2157" y="389" class="sf it" font-size="13">M</text><text x="2169" y="392" font-size="9">main,res</text><text x="2159" y="401" class="sf it" font-size="9">ε = 10</text>
<text x="2225" y="389" class="sf it" font-size="13">M</text><text x="2237" y="392" font-size="9">main,res</text><text x="2227" y="401" class="sf it" font-size="9">ε = 20</text>
<text x="2292" y="389" class="sf it" font-size="13">M</text><text x="2304" y="392" font-size="9">main,res</text><text x="2294" y="401" class="sf it" font-size="9">ε = ∞</text>
<text x="2365" y="389" font-size="12" font-weight="bold">Orig</text></g>

<rect x="1926" y="440" width="3" height="3" fill="#c0392b"/>
<text x="1934" y="446" font-size="18" font-weight="bold" fill="#111" textLength="47" lengthAdjust="spacingAndGlyphs">Better</text>
<text x="1987" y="446" font-size="18" fill="#333" textLength="132" lengthAdjust="spacingAndGlyphs">model utility with</text>
<text x="2125" y="446" font-size="18" font-weight="bold" fill="#111" textLength="49" lengthAdjust="spacingAndGlyphs">strong</text>
<text x="2179" y="446" font-size="18" fill="#333" textLength="125" lengthAdjust="spacingAndGlyphs">privacy budgets.</text>

<text x="1923" y="498" font-size="19" fill="#111" textLength="220" lengthAdjust="spacingAndGlyphs">Training/Inferecing Speedup</text>
<line x1="1923" y1="502" x2="2143" y2="502" stroke="#444" stroke-width="1.3"/>
<line x1="2031" y1="523" x2="2344" y2="523" stroke="#444" stroke-width="1.2"/>
<line x1="2092" y1="527" x2="2092" y2="587" stroke="#444" stroke-width="1"/>
<line x1="2031" y1="548" x2="2344" y2="548" stroke="#444" stroke-width="1"/>
<line x1="2031" y1="590" x2="2344" y2="590" stroke="#444" stroke-width="1.6"/>
<g font-size="14" font-weight="bold" fill="#222"><text x="2095" y="541" textLength="68" lengthAdjust="spacingAndGlyphs" class="mo">Priv-only</text><text x="2169" y="541" textLength="61" lengthAdjust="spacingAndGlyphs" class="mo">3LegRace</text><text x="2236" y="541" textLength="46" lengthAdjust="spacingAndGlyphs" class="mo">Slalom</text><text x="2295" y="541" textLength="39" lengthAdjust="spacingAndGlyphs" class="mo">Delta</text></g>
<g font-size="15" fill="#333">
<text x="2045" y="565" textLength="30" lengthAdjust="spacingAndGlyphs">Train</text><text x="2113" y="565" textLength="33" lengthAdjust="spacingAndGlyphs">1372</text><text x="2172" y="565" textLength="56" lengthAdjust="spacingAndGlyphs">237 (6×)</text><text x="2256" y="565">-</text><text x="2288" y="565" textLength="54" lengthAdjust="spacingAndGlyphs">62 (22×)</text>
<text x="2031" y="587" textLength="59" lengthAdjust="spacingAndGlyphs">Inference</text><text x="2117" y="587" textLength="25" lengthAdjust="spacingAndGlyphs">510</text><text x="2176" y="587" textLength="47" lengthAdjust="spacingAndGlyphs">95 (5×)</text><text x="2236" y="587" textLength="47" lengthAdjust="spacingAndGlyphs">84 (6×)</text><text x="2288" y="587" textLength="54" lengthAdjust="spacingAndGlyphs">20 (25×)</text></g>

<rect x="1926" y="614" width="3" height="3" fill="#c0392b"/>
<text x="1934" y="620" font-size="18" font-weight="bold" fill="#111" textLength="150" lengthAdjust="spacingAndGlyphs">Significant speedup</text>
<text x="2090" y="620" font-size="18" fill="#333" textLength="298" lengthAdjust="spacingAndGlyphs">compared to other GPU-TEE solutions.</text>

<text x="1923" y="670" font-size="19" fill="#111" textLength="206" lengthAdjust="spacingAndGlyphs">Protection Against Attacks</text>
<line x1="1923" y1="674" x2="2129" y2="674" stroke="#444" stroke-width="1.3"/>
<g>
<rect x="1940" y="697" width="39" height="39" fill="#9aaabb"/><rect x="1946" y="712" width="26" height="24" fill="#3d3a38"/><rect x="1955" y="704" width="8" height="10" fill="#4a4644"/>
<rect x="1979" y="697" width="40" height="39" fill="#5c8f3c"/><ellipse cx="1999" cy="716" rx="13" ry="10" fill="#8a8a88"/>
<rect x="2019" y="697" width="39" height="39" fill="#ecedf2"/><ellipse cx="2038" cy="720" rx="14" ry="8" fill="#3a5ab0"/><circle cx="2028" cy="729" r="5" fill="#333"/><circle cx="2049" cy="729" r="5" fill="#333"/>
<rect x="2058" y="697" width="39" height="39" fill="#2a2624"/><ellipse cx="2080" cy="716" rx="10" ry="12" fill="#e0902e"/><rect x="2060" y="710" width="10" height="20" fill="#ddd"/>
<rect x="1940" y="736" width="39" height="40" fill="#2a2a2a"/><rect x="1944" y="740" width="31" height="32" fill="#7a7068"/><ellipse cx="1958" cy="757" rx="10" ry="9" fill="#a09890"/>
<rect x="1979" y="736" width="40" height="40" fill="#a8bcd8"/><ellipse cx="1998" cy="755" rx="16" ry="16" fill="#e6e8ee"/>
<rect x="2019" y="736" width="39" height="40" fill="#c8221c"/><ellipse cx="2032" cy="748" rx="10" ry="8" fill="#e04030"/><rect x="2019" y="766" width="39" height="10" fill="#8a1a14"/>
<rect x="2058" y="736" width="39" height="40" fill="#b8c4b0"/><rect x="2058" y="752" width="39" height="24" fill="#8aa070"/><rect x="2075" y="750" width="3" height="22" fill="#5a4a30"/>
</g>
<g>
<rect x="2109" y="697" width="39" height="38" fill="#7a8a7a"/><ellipse cx="2128" cy="716" rx="12" ry="12" fill="#8e9a8a"/>
<rect x="2148" y="697" width="40" height="38" fill="#7e8a76"/>
<rect x="2188" y="697" width="39" height="38" fill="#c4c2ba"/><path d="M2195,730 C2200,705 2215,705 2220,725" fill="none" stroke="#444" stroke-width="5"/>
<rect x="2227" y="697" width="39" height="38" fill="#6a8a62"/><rect x="2240" y="700" width="20" height="15" fill="#7a9ab0"/>
<rect x="2109" y="735" width="39" height="39" fill="#4a4e48"/><rect x="2113" y="739" width="31" height="31" fill="#7a8078"/>
<rect x="2148" y="735" width="40" height="39" fill="#8a9490"/><ellipse cx="2168" cy="755" rx="14" ry="14" fill="#a8aea8"/>
<rect x="2188" y="735" width="39" height="39" fill="#8e8a78"/><rect x="2188" y="735" width="15" height="39" fill="#b0ab98"/>
<rect x="2227" y="735" width="39" height="39" fill="#8a9a7a"/><rect x="2227" y="735" width="39" height="14" fill="#a0aa98"/>
</g>
<g>
<rect x="2278" y="696" width="39" height="39" fill="#8a8470"/><rect x="2284" y="704" width="26" height="24" fill="#9a8c76"/>
<rect x="2317" y="696" width="40" height="39" fill="#8a9090"/><rect x="2317" y="716" width="40" height="19" fill="#6e7a70"/>
<rect x="2357" y="696" width="39" height="39" fill="#6e7a70"/><circle cx="2368" cy="712" r="4" fill="#b03a30"/><circle cx="2380" cy="720" r="3" fill="#3a50a0"/><circle cx="2372" cy="726" r="3" fill="#a03028"/>
<rect x="2396" y="696" width="39" height="39" fill="#6a7a82"/>
<rect x="2278" y="735" width="39" height="39" fill="#9a8a78"/><rect x="2284" y="741" width="26" height="26" fill="#a89880"/>
<rect x="2317" y="735" width="40" height="39" fill="#7a7060"/><circle cx="2328" cy="750" r="4" fill="#b83a30"/><circle cx="2343" cy="752" r="4" fill="#b83a30"/><circle cx="2335" cy="762" r="3" fill="#c04030"/>
<rect x="2357" y="735" width="39" height="39" fill="#7a7a70"/>
<rect x="2396" y="735" width="39" height="39" fill="#9a9080"/>
</g>
<g font-size="15" fill="#333"><text x="1967" y="789" textLength="103" lengthAdjust="spacingAndGlyphs">Original samples</text><text x="2133" y="789" textLength="109" lengthAdjust="spacingAndGlyphs">Recon. (no noise)</text><text x="2311" y="789" textLength="91" lengthAdjust="spacingAndGlyphs">Recon. ( <tspan class="sf it">ε</tspan> = 1)</text></g>

<rect x="1926" y="824" width="3" height="3" fill="#c0392b"/>
<text x="1934" y="830" font-size="18" fill="#333" textLength="328" lengthAdjust="spacingAndGlyphs">DP on residuals provide further protection.</text>

<text x="1923" y="881" font-size="19" fill="#111" textLength="296" lengthAdjust="spacingAndGlyphs">Asymmetric Flow in Language Models</text>
<line x1="1923" y1="885" x2="2219" y2="885" stroke="#444" stroke-width="1.3"/>
<text x="1954" y="922" font-size="15" fill="#333" textLength="150" lengthAdjust="spacingAndGlyphs">low-rank approximation:</text>
<text x="2111" y="922" class="sf it" font-size="16" fill="#222">X</text>
<text x="2134" y="911" class="sf it" font-size="9" fill="#222">SVD</text>
<line x1="2132" y1="916" x2="2160" y2="916" stroke="#222" stroke-width="0.9" marker-end="url(#mk)"/>
<text x="2167" y="922" class="sf it" font-size="16" fill="#222" textLength="254" lengthAdjust="spacingAndGlyphs">X<tspan font-size="10" dy="3">lr</tspan><tspan dy="-3"> = U(:, 1 : r) · S(1 : r, 1 : r) · V(1 : r, :)</tspan></text>

<path d="M2060,1092 L2068,1089 L2076,1085 L2082,1089 L2100,1090 L2150,1090 L2200,1089 L2225,1085 L2235,1083 L2250,1082 L2262,1079 L2270,1077 L2285,1076 L2295,1077 L2300,1070 L2305,1065 L2312,1068 L2318,1067 L2323,1066 L2328,1072 L2333,1079 L2340,1087 L2350,1091 L2375,1092 Z" fill="#7878f0" stroke="#5a5ae8" stroke-width="0.8"/>
<path d="M2317,1092 L2318,1072 L2319,1092 L2324,1092 L2325,1062 L2326,1085 L2330,1080 L2332,1055 L2334,1040 L2336,1030 L2337,1010 L2339,1040 L2341,1025 L2343,1045 L2345,1020 L2347,1035 L2349,985 L2350,963 L2352,1000 L2354,1020 L2355,975 L2357,1010 L2359,990 L2361,1030 L2363,1050 L2364,1015 L2366,1060 L2368,1040 L2370,1075 L2372,1070 L2374,1085 L2376,1065 L2377,1092 Z" fill="#c8f5c0" fill-opacity="0.85" stroke="#7de07d" stroke-width="1"/>
<path d="M2035.7,1092 L2042.4,1055.6 L2052,1089.4 L2056.8,1090.7 L2076,1089.4 L2095.2,1088.1 L2109.6,1081.6 L2119.2,1068.6 L2128.8,1055.6 L2138.4,1068.6 L2148,1082.9 L2157.6,1081.6 L2164.3,1079 L2172,1082.9 L2181.6,1086.8 L2191.2,1086.8 L2200.8,1076.4 L2210.4,1068.6 L2220,1073.8 L2229.6,1084.2 L2239.2,1089.4 L2268,1090.7 L2287.2,1089.4 L2306.4,1089.9 L2325.6,1091.2 L2335.2,1092 Z" fill="#f09090" fill-opacity="0.9" stroke="#e87070" stroke-width="0.8"/>
<rect x="2004" y="952" width="404" height="140" fill="none" stroke="#222" stroke-width="1.3"/>
<g stroke="#444" stroke-width="0.8"><path d="M2076,1092 V1088 M2172,1092 V1088 M2268,1092 V1088 M2365,1092 V1088 M2076,952 V956 M2172,952 V956 M2268,952 V956 M2365,952 V956 M2004,988 H2008 M2004,1014 H2008 M2004,1040 H2008 M2004,1066 H2008 M2408,988 H2404 M2408,1014 H2404 M2408,1040 H2404 M2408,1066 H2404"/></g>
<g font-size="11" fill="#555" text-anchor="end"><text x="2000" y="992">40</text><text x="2000" y="1018">30</text><text x="2000" y="1044">20</text><text x="2000" y="1070">10</text></g>
<text transform="translate(1981,1022) rotate(-90)" text-anchor="middle" font-size="12" fill="#444">prob density</text>
<g font-size="11" fill="#555" text-anchor="middle"><text x="2076" y="1104">0.2</text><text x="2172" y="1104">0.3</text><text x="2268" y="1104">0.4</text><text x="2365" y="1104">0.5</text></g>
<text x="2085" y="1118" font-size="13" fill="#333" textLength="140" lengthAdjust="spacingAndGlyphs"># components needed (%, </text>
<text x="2227" y="1118" font-size="13" font-weight="bold" fill="#222" textLength="101" lengthAdjust="spacingAndGlyphs">on MMLU dataset)</text>
<line x1="2013" y1="988" x2="2020" y2="988" stroke="#7de07d" stroke-width="1.5"/><line x1="2013" y1="1001" x2="2020" y2="1001" stroke="#5a5ae8" stroke-width="1.5"/><line x1="2013" y1="1013" x2="2020" y2="1013" stroke="#f09090" stroke-width="1.5"/>
<g font-size="12" fill="#333"><text x="2022" y="992" class="sf"><tspan font-style="italic">L</tspan> ∈ [0, 300]</text><text x="2022" y="1005" class="sf"><tspan font-style="italic">L</tspan> ∈ [300, 600]</text><text x="2022" y="1017" class="sf"><tspan font-style="italic">L</tspan> ∈ [600, ]</text></g>

<!-- ===== FOOTER ===== -->
<rect x="0" y="1190" width="2502" height="50" fill="#f9e4e4"/>
<text x="13" y="1225" font-size="19" fill="#222" textLength="242" lengthAdjust="spacingAndGlyphs">yuehniu.github.io/homepage</text>
<text x="1184" y="1225" font-size="25" font-weight="bold" fill="#111" textLength="101" lengthAdjust="spacingAndGlyphs">CVPR'24</text>
<text x="1317" y="1225" font-size="25" font-weight="bold" fill="#111" textLength="114" lengthAdjust="spacingAndGlyphs">@Seattle</text>
<text x="2360" y="1225" font-size="19" fill="#222" textLength="136" lengthAdjust="spacingAndGlyphs">yueniu@usc.edu</text>
</svg>
</body></html>
